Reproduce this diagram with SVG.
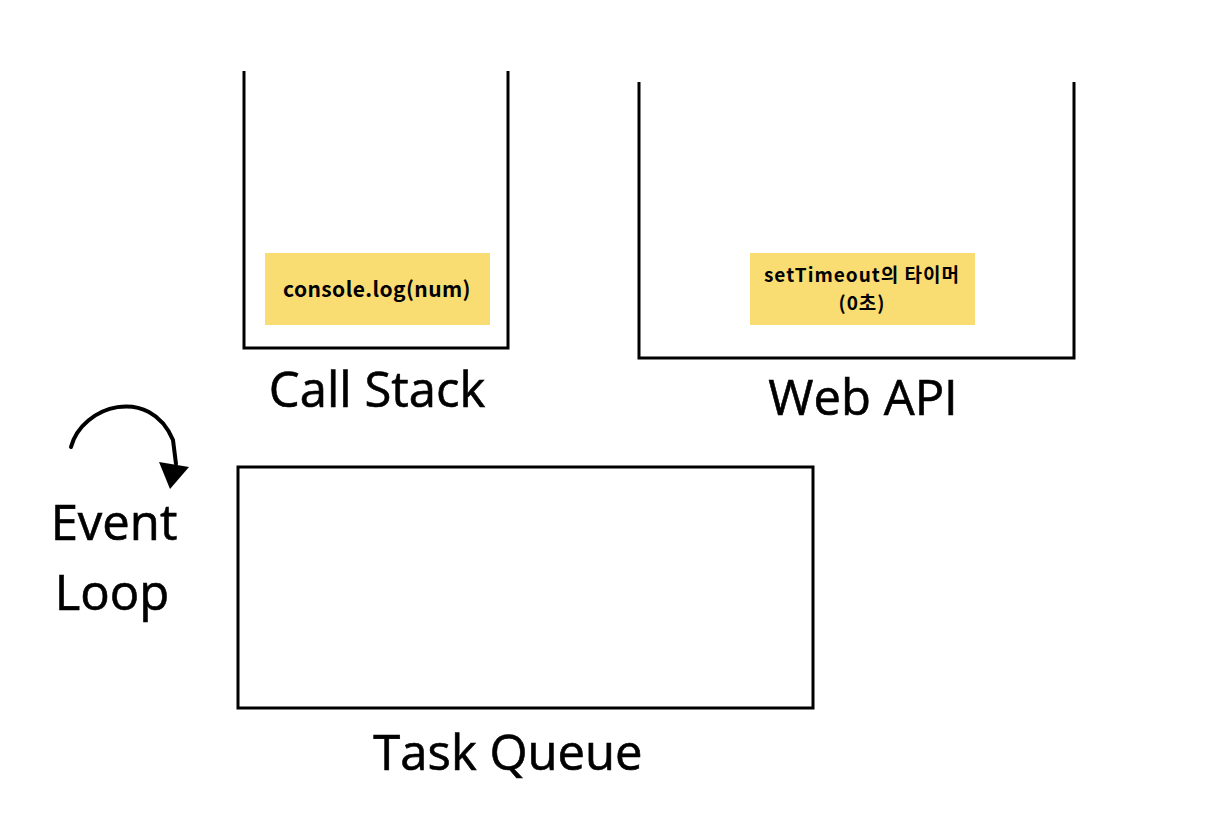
<svg xmlns="http://www.w3.org/2000/svg" width="1218" height="818" viewBox="0 0 1218 818">
<defs>
<style>
.box{fill:none;stroke:#000;stroke-width:3}
.note{fill:#F9DC72}
.lbl{font-family:"Open Sans","Noto Sans",sans-serif;font-size:49px;fill:#000;text-anchor:middle;stroke:#000;stroke-width:0.6}
.nt{font-family:"Noto Sans CJK KR","Noto Sans",sans-serif;font-weight:bold;font-size:21px;fill:#000;text-anchor:middle;letter-spacing:0.4px}
.nt2{font-family:"Noto Sans CJK KR","Noto Sans",sans-serif;font-weight:bold;font-size:19px;fill:#000;text-anchor:middle;letter-spacing:1px}
</style>
</defs>
<rect width="1218" height="818" fill="#fff"/>
<g id="call-stack">
<polyline class="box" points="244,71 244,348 508,348 508,71"/>
<text class="lbl" x="377" y="407">Call Stack</text>
</g>
<g id="console-log">
<rect class="note" x="265" y="253" width="225" height="72"/>
<text class="nt" x="377" y="297">console.log(num)</text>
</g>
<g id="web-api">
<polyline class="box" points="639,82 639,358 1074,358 1074,82"/>
<text class="lbl" x="863" y="415">Web API</text>
</g>
<g id="timer">
<rect class="note" x="750" y="253" width="225" height="72"/>
<text class="nt2" x="862" y="282">setTimeout의 타이머</text>
<text class="nt2" x="862" y="310">(0초)</text>
</g>
<g id="task-queue">
<rect class="box" x="238" y="467" width="575" height="241"/>
<text class="lbl" x="508" y="770">Task Queue</text>
</g>
<g id="event-loop">
<text class="lbl" x="114" y="540">Event</text>
<text class="lbl" x="112" y="610">Loop</text>
</g>
<g id="connectors">
<path d="M71,447 C82,405 150,385 173,440 L176,464" fill="none" stroke="#000" stroke-width="4" stroke-linecap="round"/>
<polygon points="159,462 189,467 170,489" fill="#000"/>
</g>
</svg>
